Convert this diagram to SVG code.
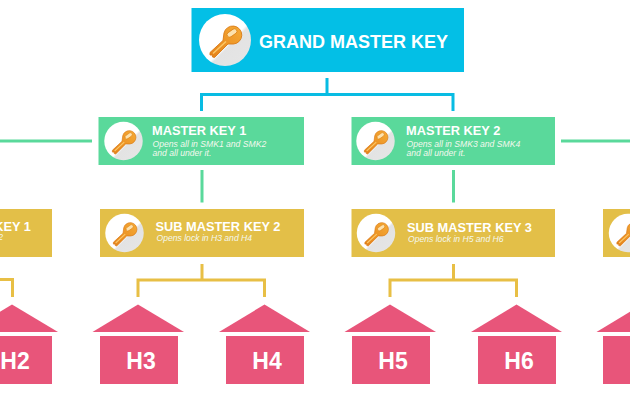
<svg xmlns="http://www.w3.org/2000/svg" width="630" height="400" viewBox="0 0 630 400">
<style>
text{font-family:"Liberation Sans",Arial,sans-serif;fill:#fff}
.t{font-weight:700;font-size:12.8px}
.d{font-style:italic;font-size:8.6px;fill:#f4f8ee}
.h{font-weight:700;font-size:23px;text-anchor:middle}
.g{fill:#5ad99b}.y{fill:#e3bf48}.p{fill:#e8557a}
.cb,.cg,.cy{fill:none;stroke-width:3}
.cb{stroke:#08bce3}.cg{stroke:#5ad99b}.cy{stroke:#e8bf45}
</style>
<defs>
<linearGradient id="disc" x1="0" y1="0" x2="1" y2="1"><stop offset="0.56" stop-color="#fff"/><stop offset="0.6" stop-color="#e3e3e3"/><stop offset="1" stop-color="#e6e6e6"/></linearGradient>
<linearGradient id="gold" x1="0" y1="1" x2="1" y2="0"><stop offset="0" stop-color="#e4811a"/><stop offset="1" stop-color="#f6ab35"/></linearGradient>
<g id="key">
<circle r="26" fill="url(#disc)"/>
<path d="M-15 12.500 L-2 0.500 L-1 -7 A9 9 0 1 1 8.500 4 L3 4 L-10.500 17.500 L-12.500 17 L-12.700 15 L-15 15Z" fill="url(#gold)" stroke="#d97a16" stroke-width=".9"/>
<path d="M-12 13.500 L1 1.500" stroke="#fbc868" stroke-width="1.500" fill="none"/>
<rect x="1.500" y="-9.500" width="11" height="5" rx="2.500" transform="rotate(-35 7 -7)" fill="#fde2ad" stroke="#dd8418" stroke-width=".8"/>
</g>
</defs>
<rect width="630" height="400" fill="#fff"/>
<g id="connectors">
<path class="cb" d="M327 78V94.500M201.500 111V94.500H453V111"/>
<path class="cg" d="M0 141H92M561 141H630M202 170V202.500M453.500 170V202.500"/>
<path class="cy" d="M202 264V280M138 297V280H264.500V297M453.500 264V280M390 297V280H516.500V297M0 279.500H12.500V297"/>
</g>
<g id="grand-master-key">
<rect x="191.500" y="8" width="272.500" height="64" fill="#03bfe6"/>
<use href="#key" transform="translate(225 40)"/>
<text x="259" y="47.500" font-size="18" font-weight="700">GRAND MASTER KEY</text>
</g>
<g id="master-key-1">
<rect class="g" x="98.500" y="117" width="205.500" height="48"/>
<use href="#key" transform="translate(123.500 141) scale(.74)"/>
<text class="t" x="152" y="135">MASTER KEY 1</text>
<text class="d" x="152.500" y="146.800">Opens all in SMK1 and SMK2</text>
<text class="d" x="152.500" y="156">and all under it.</text>
</g>
<g id="master-key-2">
<rect class="g" x="351.500" y="117" width="203.500" height="48"/>
<use href="#key" transform="translate(375.500 141) scale(.74)"/>
<text class="t" x="406" y="135">MASTER KEY 2</text>
<text class="d" x="406.500" y="146.800">Opens all in SMK3 and SMK4</text>
<text class="d" x="406.500" y="156">and all under it.</text>
</g>
<g id="sub-master-key-1">
<rect class="y" x="-20" y="209" width="72" height="48"/>
<text class="t" x="31" y="231" text-anchor="end">KEY 1</text>
<text class="d" x="3" y="240" text-anchor="end">2</text>
</g>
<g id="sub-master-key-2">
<rect class="y" x="100" y="209" width="204" height="48"/>
<use href="#key" transform="translate(124.500 233) scale(.74)"/>
<text class="t" x="155.500" y="231">SUB MASTER KEY 2</text>
<text class="d" x="156.500" y="240.500">Opens lock in H3 and H4</text>
</g>
<g id="sub-master-key-3">
<rect class="y" x="351.500" y="209" width="203.500" height="48"/>
<use href="#key" transform="translate(376 233) scale(.74)"/>
<text class="t" x="407" y="231.500">SUB MASTER KEY 3</text>
<text class="d" x="408" y="241.500">Opens lock in H5 and H6</text>
</g>
<g id="sub-master-key-4">
<rect class="y" x="603" y="209" width="40" height="48"/>
<use href="#key" transform="translate(628 233) scale(.74)"/>
</g>
<g id="h2"><path class="p" d="M12 304.500L58 332H-34Z"/><rect class="p" x="-26" y="336" width="78" height="48"/><text class="h" x="15" y="369">H2</text></g>
<g id="h3"><path class="p" d="M138 304.500L184 332H92.500Z"/><rect class="p" x="100" y="336" width="78" height="48"/><text class="h" x="141" y="369">H3</text></g>
<g id="h4"><path class="p" d="M264.500 304.500L310 332H219Z"/><rect class="p" x="226" y="336" width="78" height="48"/><text class="h" x="267" y="369">H4</text></g>
<g id="h5"><path class="p" d="M390 304.500L436 332H344.500Z"/><rect class="p" x="352" y="336" width="78" height="48"/><text class="h" x="393" y="369">H5</text></g>
<g id="h6"><path class="p" d="M516.500 304.500L562 332H471Z"/><rect class="p" x="478" y="336" width="78" height="48"/><text class="h" x="519" y="369">H6</text></g>
<g id="h7"><path class="p" d="M642 304.500L688 332H596.500Z"/><rect class="p" x="603" y="336" width="78" height="48"/></g>
</svg>
